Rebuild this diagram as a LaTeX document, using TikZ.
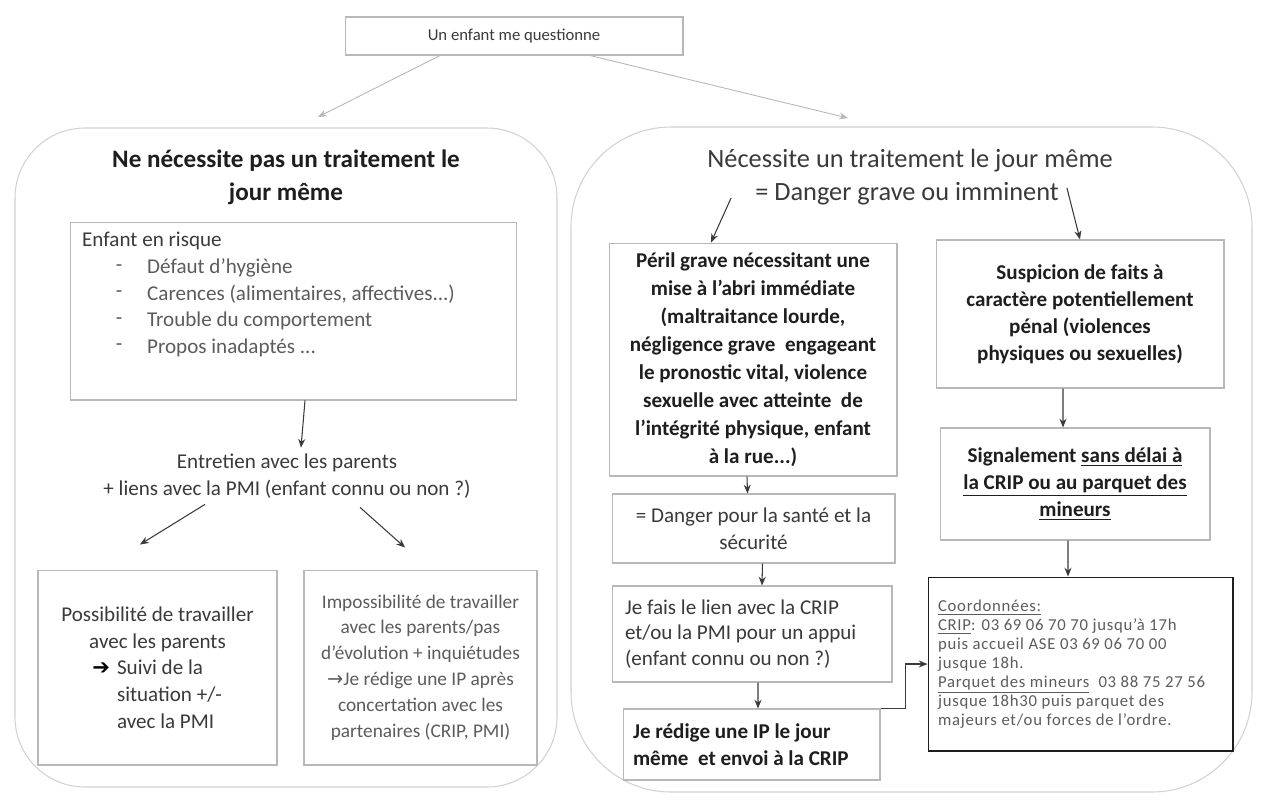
\documentclass[tikz,border=0pt]{standalone}
\usepackage{fontspec}
\setmainfont{Carlito}
\newfontfamily\symfont{DejaVu Sans}
\usetikzlibrary{arrows.meta}

\definecolor{ink}{HTML}{3A3A3A}
\definecolor{inkdark}{HTML}{1E1E1E}
\definecolor{inklight}{HTML}{5C5C5C}
\definecolor{frame}{HTML}{B8B8B8}
\definecolor{panel}{HTML}{D2D2D2}

\newcommand{\threedots}{...}

\tikzset{
  box/.style={draw=frame, line width=0.6pt, inner sep=4pt, align=center, text=ink},
  body/.style={font=\fontsize{12}{15.2}\selectfont},
  boldbody/.style={font=\bfseries\fontsize{12}{15.9}\selectfont, text=inkdark},
  arr/.style={-{Stealth[length=5pt,width=4pt]}, line width=0.6pt, ink},
  faint/.style={-{Stealth[length=5pt,width=4pt]}, line width=0.5pt, frame},
}

\begin{document}
\begin{tikzpicture}[x=0.02cm, y=-0.02cm]
    \fill[white] (0,0) rectangle (1261,799);
    \useasboundingbox (0,0) rectangle (1261,799);

    % Starting question
    \node[box, font=\fontsize{9.5}{12}\selectfont, minimum width=6.76cm, minimum height=0.76cm] (start) at (514,36) {Un enfant me questionne};

    % Panels
    \draw[panel, line width=0.6pt, rounded corners=1.4cm] (15,128) rectangle (557,787);
    \draw[panel, line width=0.6pt, rounded corners=2cm] (571,127) rectangle (1252,792);

    \coordinate (ltop) at (318,117);
    \coordinate (rtop) at (848,118);
    \draw[faint] ([xshift=-1.48cm]start.south) -- (ltop);
    \draw[faint] ([xshift=1.52cm]start.south) -- (rtop);

    % Left panel
    \node[font=\bfseries\fontsize{14.3}{18.7}\selectfont, text=inkdark, align=center] (ltitle) at (286,177) {Ne nécessite pas un traitement le\\jour même};

    \node[box, minimum width=8.94cm, minimum height=3.56cm] (risk) at (293.5,311) {};
    \node[body, text=ink, anchor=west] (riskhead) at (76,241) {Enfant en risque};
    \foreach \txt [count=\k] in {{Défaut d’hygiène}, {Carences (alimentaires, affectives\threedots)}, {Trouble du comportement}, {Propos inadaptés \threedots}} {
        \node[body, text=inklight] (dash\k) at (119, 241.5+26.5*\k) {-};
        \node[body, text=inklight, anchor=west] (item\k) at (141, 241.5+26.5*\k) {\txt};
    }

    \node[body, text=ink, align=center] (talk) at (287,476) {Entretien avec les parents\\+ liens avec la PMI (enfant connu ou non ?)};
    \draw[arr] ([xshift=0.23cm]risk.south) -- ([xshift=0.28cm]talk.north);

    \node[box, body, minimum width=4.78cm, minimum height=3.9cm] (possible) at (157.5,667.5) {Possibilité de travailler\\avec les parents\\\makebox[1.62cm][l]{\llap{\symfont\color{black}➔\hspace{4pt}}Suivi de la}\\\makebox[1.62cm][l]{situation +/-}\\\makebox[1.62cm][l]{avec la PMI}};
    \node[box, font=\fontsize{11}{14.7}\selectfont, text=inklight, minimum width=4.66cm, minimum height=3.9cm] (impossible) at (420.5,667.5) {Impossibilité de travailler\\avec les parents/pas\\d’évolution + inquiétudes\\{\symfont →}Je rédige une IP après\\concertation avec les\\partenaires (CRIP, PMI)};
    \draw[arr] ([xshift=-1.64cm]talk.south) -- ([shift={(-17.5,-25)}]possible.north);
    \draw[arr] ([shift={(73,3)}]talk.south) -- ([shift={(-15.5,-22)}]impossible.north);

    % Right panel
    \node[font=\fontsize{15}{18.7}\selectfont, text=ink] (rtitle) at (910,161) {Nécessite un traitement le jour même};
    \node[font=\fontsize{15}{18.7}\selectfont, text=ink] (rdanger) at (907,194) {= Danger grave ou imminent};

    \node[box, boldbody, minimum width=5.76cm, minimum height=4.66cm] (peril) at (753,359.5) {Péril grave nécessitant une\\mise à l’abri immédiate\\(maltraitance lourde,\\négligence grave\ \ engageant\\le pronostic vital, violence\\sexuelle avec atteinte\ \ de\\l’intégrité physique, enfant\\à la rue...)};
    \node[box, boldbody, font=\bfseries\fontsize{12}{15.3}\selectfont, minimum width=5.76cm, minimum height=2.96cm] (susp) at (1080,314) {Suspicion de faits à\\caractère potentiellement\\pénal (violences\\physiques ou sexuelles)};
    \node[box, boldbody, font=\bfseries\fontsize{12}{15.3}\selectfont, minimum width=5.4cm, minimum height=2.24cm] (signal) at (1075,484) {Signalement \underline{sans délai à}\\\underline{la CRIP ou au parquet des}\\\underline{mineurs}};

    \node[box, font=\fontsize{12}{15.3}\selectfont, minimum width=5.66cm, minimum height=1.38cm] (health) at (753.5,528.5) {= Danger pour la santé et la\\sécurité};
    \node[box, align=flush left, text width=5.08cm, font=\fontsize{12}{14.6}\selectfont, minimum width=5.6cm, minimum height=1.92cm] (link) at (752,634) {Je fais le lien avec la CRIP\\et/ou la PMI pour un appui\\(enfant connu ou non ?)};
    \node[box, boldbody, align=flush left, text width=4.74cm, font=\bfseries\fontsize{12}{15.3}\selectfont, minimum width=5.14cm, minimum height=1.42cm] (ip) at (751.5,744.5) {Je rédige une IP le jour\\même\ \ et envoi à la CRIP};

    \node[box, draw=inkdark, align=flush left, text width=5.7cm, font=\fontsize{9.5}{10.8}\selectfont\addfontfeature{LetterSpace=4.5}, text=inklight, minimum width=6.1cm, minimum height=3.48cm] (coord) at (1080.5,664) {\underline{Coordonnées:}\\\underline{CRIP}: 03 69 06 70 70 jusqu’à 17h\\puis accueil ASE 03 69 06 70 00\\jusque 18h.\\\underline{Parquet des mineurs}\ \ 03 88 75 27 56\\jusque 18h30 puis parquet des\\majeurs et/ou forces de l’ordre.};

    % Connectors of the right panel
    \draw[arr] ([shift={(-18,4)}]rdanger.west) -- ([xshift=-0.84cm]peril.north);
    \draw[arr] ([shift={(2,-6)}]rdanger.east) -- (susp.north);
    \draw[arr] ([xshift=-0.12cm]peril.south) -- ([xshift=-0.12cm]health.north);
    \draw[arr] ([xshift=0.18cm]health.south) -- ([xshift=0.2cm]link.north);
    \draw[arr] ([xshift=0.12cm]link.south) -- ([xshift=0.13cm]ip.north);
    \draw[arr] ([xshift=-0.34cm]susp.south) -- ([xshift=-0.24cm]signal.north);
    \draw[arr] ([xshift=-0.14cm]signal.south) -- ([xshift=-0.25cm]coord.north);
    \draw[arr] (ip.north east) -- ++(25,0) |- (coord.west);
\end{tikzpicture}
\end{document}
